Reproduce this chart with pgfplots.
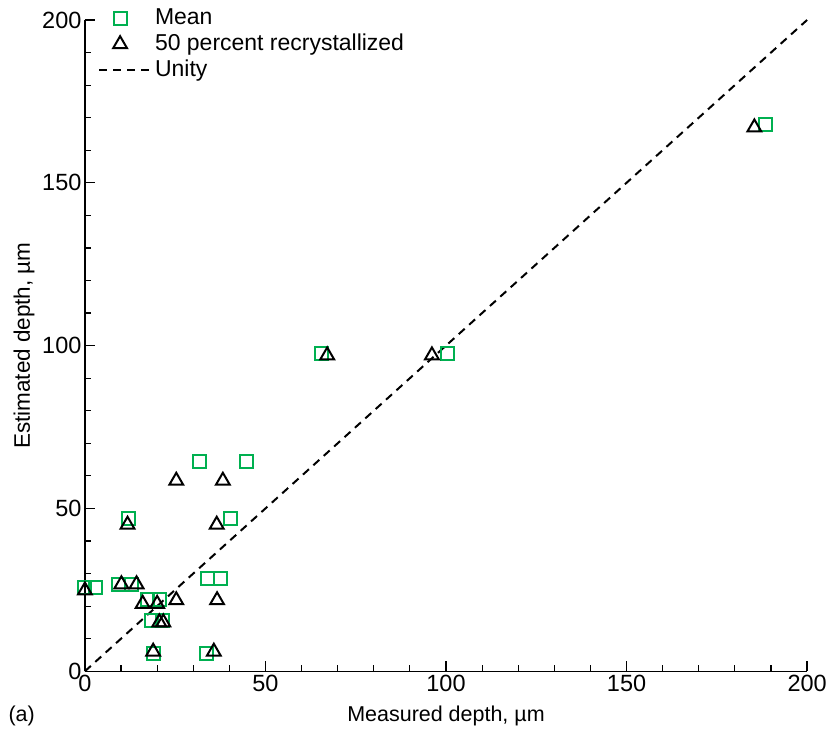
\documentclass[border=0pt]{standalone}
\usepackage{pgfplots}
\pgfplotsset{compat=1.18}
\usepackage{fontspec}
\setmainfont{Liberation Sans}
\definecolor{mgreen}{RGB}{0,176,80}
\pgfplotsset{
  lineleg/.style={legend image code/.code={\draw[##1] (0pt,0pt) -- (50pt,0pt);}},
  markleg/.style={legend image code/.code={\draw[##1, only marks] plot coordinates {(21pt,0pt)};}},
}
\begin{document}
\begin{tikzpicture}
\begin{axis}[
  width=723pt, height=652pt, scale only axis,
  xmin=0, xmax=200, ymin=0, ymax=200,
  axis x line=bottom, axis y line=left,
  axis line style={line width=1.4pt, -},
  xtick={0,50,...,200}, ytick={0,50,...,200},
  minor xtick={10,20,30,40,60,70,80,90,110,120,130,140,160,170,180,190},
  minor ytick={10,20,30,40,60,70,80,90,110,120,130,140,160,170,180,190},
  tick style={line width=1.2pt, black},
  major tick length=10pt, minor tick length=6pt,
  tick align=inside,
  /pgf/number format/assume math mode=true,
  tick label style={font=\fontsize{23.5}{27}\selectfont},
  clip=false,
  legend style={draw=none, fill=none, at={(0.018,1.023)}, anchor=north west,
    font=\fontsize{23}{27}\selectfont, row sep=0pt, column sep=4pt, inner sep=0pt,
    nodes={inner sep=1pt, text height=18pt, text depth=6pt}},
  legend cell align=left,
]
\addplot[only marks, mark=square, mark size=6.5pt, mgreen, line width=2pt, markleg] coordinates {
(31.8,64.5) (44.7,64.5) (12,47) (40.3,47) (0,25.6) (2.8,25.6) (9.3,26.5) (13,26.5)
(34,28.5) (37.5,28.5) (17.2,22) (20.7,22) (18.4,15.5) (21.6,15.5) (19.1,5.5) (33.6,5.5)
(65.5,97.5) (100.3,97.5) (188.4,168)
};
\addlegendentry{Mean}
\addplot[only marks, mark=triangle, mark size=8pt, black, line width=2pt, markleg] coordinates {
(25.3,58.5) (38.2,58.5) (11.8,45) (36.5,45) (0,24.8) (10.1,26.7) (14.3,26.7)
(16,20.7) (20,20.7) (25.3,21.8) (36.6,21.8) (20.6,15) (21.7,15) (18.9,6) (35.7,6)
(67.1,97) (96.1,97) (185.4,167)
};
\addlegendentry{50 percent recrystallized}
\addplot[black, line width=2pt, dash pattern=on 8pt off 6pt, lineleg] coordinates {(0,0) (200,200)};
\addlegendentry{Unity}
\node[anchor=base, font=\fontsize{21.5}{25}\selectfont] at (axis description cs:0.5,-0.0767) {Measured depth, µm};
\node[anchor=base west, font=\fontsize{21.5}{25}\selectfont] at (axis description cs:-0.1107,-0.0767) {(a)};
\node[rotate=90, anchor=center, font=\fontsize{22.5}{26}\selectfont] at (axis description cs:-0.0844,0.5) {Estimated depth, µm};
\path (axis description cs:-0.1176,1.0307) (axis description cs:1.0304,-0.089);
\end{axis}
\end{tikzpicture}
\end{document}
